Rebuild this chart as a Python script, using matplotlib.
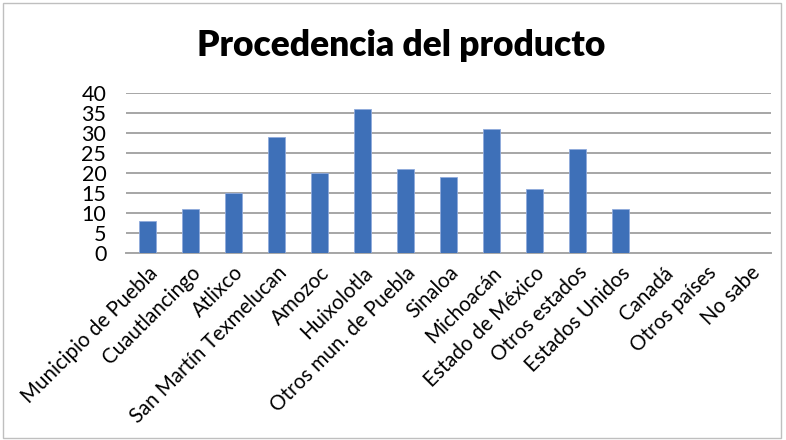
import matplotlib
matplotlib.use("Agg")
import matplotlib.pyplot as plt
from matplotlib.patches import Rectangle

categories = ["Municipio de Puebla", "Cuautlancingo", "Atlixco", "San Martín Texmelucan",
              "Amozoc", "Huixolotla", "Otros mun. de Puebla", "Sinaloa", "Michoacán",
              "Estado de México", "Otros estados", "Estados Unidos", "Canadá",
              "Otros países", "No sabe"]
values = [8, 11, 15, 29, 20, 36, 21, 19, 31, 16, 26, 11, 0, 0, 0]
yticks = [0, 5, 10, 15, 20, 25, 30, 35, 40]

plt.rcParams['font.family'] = ['Lato', 'DejaVu Sans']

fig = plt.figure(figsize=(7.86, 4.40), dpi=100)
ax = fig.add_axes([0.160, 0.425, 0.821, 0.364])

x = list(range(len(categories)))
ax.bar(x, values, width=0.4, color="#3E70B8", edgecolor="#8FAADC", linewidth=0.6, zorder=3)
ax.set_xlim(-0.5, len(categories) - 0.5)
ax.set_ylim(0, 40)
ax.set_yticks(yticks)
ax.set_yticklabels([str(v) for v in yticks], fontsize=15.5)
ax.set_xticks(x)
ax.set_xticklabels(categories, rotation=45, ha='right', rotation_mode='anchor', fontsize=14.8)
ax.tick_params(axis='both', length=0)
ax.tick_params(axis='x', pad=7)
ax.tick_params(axis='y', pad=14)
ax.grid(axis='y', color="#A6A6A6", linewidth=1.4, zorder=0)
for s in ['top', 'right', 'left']:
    ax.spines[s].set_visible(False)
ax.spines['bottom'].set_color("#A6A6A6")
ax.spines['bottom'].set_linewidth(1.4)

fig.text(0.51, 0.897, "Procedencia del producto", ha='center', va='center',
         fontsize=25.5, fontweight='heavy')

fig.patches.append(Rectangle((0.004, 0.004), 0.99, 0.99, transform=fig.transFigure,
                             fill=False, edgecolor="#BFBFBF", linewidth=1))

fig.savefig("out.png", dpi=100)
